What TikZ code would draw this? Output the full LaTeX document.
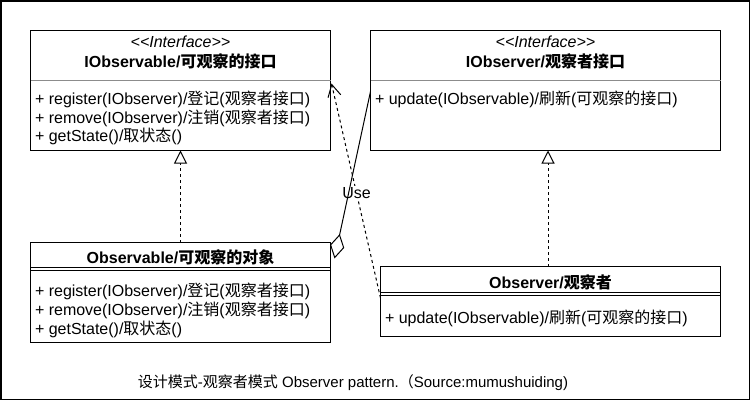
\documentclass[tikz,border=0pt]{standalone}
\usepackage{fontspec}
\setmainfont{Liberation Sans}
\newfontfamily\cjk{Noto Sans CJK SC}
\newcommand\zh[1]{{\cjk #1}}
\usetikzlibrary{arrows.meta}
\begin{document}
\begin{tikzpicture}[x=1pt,y=-1pt,
  box/.style={draw, line width=1pt, inner sep=0pt, outer sep=0pt, anchor=north west},
  txt/.style={inner sep=0pt, outer sep=0pt, text height=12pt, text depth=4pt, font=\fontsize{16}{19}\selectfont},
  ltxt/.style={txt, anchor=west},
  ctxt/.style={txt, anchor=center},
  divgray/.style={draw=black!45, line width=1pt},
  divblack/.style={draw, line width=1pt},
  realize/.style={line width=1pt, dash pattern=on 3pt off 3pt, -{Triangle[length=13pt,width=13pt,fill=white]}},
  useedge/.style={line width=1pt, dash pattern=on 3pt off 3pt, -{Straight Barb[length=12pt,width=13pt]}},
  aggedge/.style={line width=1pt, {Diamond[open,length=25pt,width=14.5pt]}-},
]
\useasboundingbox (0,0) rectangle (751,401);
\draw[line width=1.3pt] (1,1) rectangle (749.8,399.6);

% IObservable interface
\node[box, minimum width=300pt, minimum height=120pt] (iobs) at (30.5,30.5) {};
\node[ctxt] (iobst) at (180.5,43.3) {\itshape <{}<Interface>{}>};
\node[ctxt] (iobsn) at (180.5,63.3) {\bfseries IObservable/\zh{可观察的接口}};
\draw[divgray] (30.5,81) -- (330.5,81);
\node[ltxt] (iobsm1) at (35,100.7) {+ register(IObserver)/\zh{登记}(\zh{观察者接口})};
\node[ltxt] (iobsm2) at (35,119) {+ remove(IObserver)/\zh{注销}(\zh{观察者接口})};
\node[ltxt] (iobsm3) at (35,137.3) {+ getState()/\zh{取状态}()};

% IObserver interface
\node[box, minimum width=350pt, minimum height=120pt] (iobsr) at (370.5,30.5) {};
\node[ctxt] (iobsrt) at (545.5,43.3) {\itshape <{}<Interface>{}>};
\node[ctxt] (iobsrn) at (545.5,63.3) {\bfseries IObserver/\zh{观察者接口}};
\draw[divgray] (370.5,81) -- (720.5,81);
\node[ltxt] (iobsrm1) at (375,101) {+ update(IObservable)/\zh{刷新}(\zh{可观察的接口})};

% Observable class
\node[box, minimum width=300pt, minimum height=100pt] (obs) at (30.5,242.5) {};
\node[ctxt] (obsn) at (180.5,259.3) {\bfseries Observable/\zh{可观察的对象}};
\draw[divblack] (30.5,267.5) -- (330.5,267.5);
\draw[divblack] (30.5,270.5) -- (330.5,270.5);
\node[ltxt] (obsm1) at (35,292.7) {+ register(IObserver)/\zh{登记}(\zh{观察者接口})};
\node[ltxt] (obsm2) at (35,311.5) {+ remove(IObserver)/\zh{注销}(\zh{观察者接口})};
\node[ltxt] (obsm3) at (35,330) {+ getState()/\zh{取状态}()};

% Observer class
\node[box, minimum width=340pt, minimum height=70pt] (obsr) at (380.5,266.5) {};
\node[ctxt] (obsrn) at (550.5,284) {\bfseries Observer/\zh{观察者}};
\draw[divblack] (380.5,292.5) -- (720.5,292.5);
\draw[divblack] (380.5,295.5) -- (720.5,295.5);
\node[ltxt] (obsrm1) at (385,319.3) {+ update(IObservable)/\zh{刷新}(\zh{可观察的接口})};

% connectors
\draw[realize] (obs.north) -- (iobs.south);
\draw[realize] ([xshift=-2.5pt]obsr.north) -- ([xshift=2.5pt]iobsr.south);
\draw[useedge] ([yshift=3.5pt]obsr.west) -- node[pos=0.49, fill=white, inner sep=1pt, font=\fontsize{16}{19}\selectfont] (uselbl) {Use} ([xshift=1pt,yshift=7pt]iobs.east);
\draw[aggedge] ([xshift=4pt,yshift=34pt]obs.east) -- ([yshift=-1pt]iobsr.west);

% caption
\node[ctxt, font=\fontsize{15}{18}\selectfont] (cap) at (353,383) {\zh{设计模式}-\zh{观察者模式} Observer pattern.\zh{（}Source:mumushuiding)};
\end{tikzpicture}
\end{document}
